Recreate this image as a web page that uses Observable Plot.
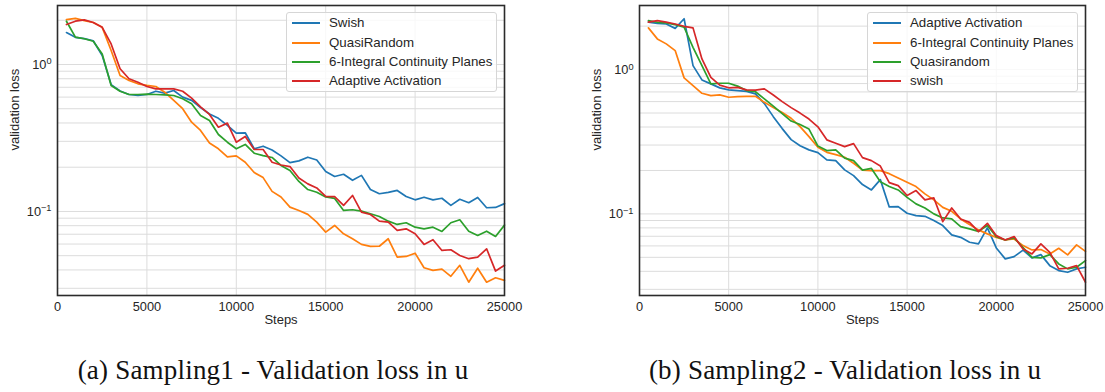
<!DOCTYPE html>
<html>
<head>
<meta charset="utf-8">
<script src="https://cdn.jsdelivr.net/npm/d3@7"></script>
<script src="https://cdn.jsdelivr.net/npm/@observablehq/plot@0.6"></script>
<style>
  body { margin: 0; background: #fff; }
  #wrap { position: relative; width: 1105px; height: 392px; background: #fff; overflow: hidden; }
  #row { position: absolute; left: 0; top: 0; display: flex; }
  .legend { position: absolute; box-sizing: border-box; border: 1px solid #d6d6d6; border-radius: 3px;
            background: rgba(255,255,255,0.8); font: 13.3px "Liberation Sans", Arial, sans-serif; color: #262626; }
  .legend .row { position: absolute; left: 0; height: 0; }
  .legend .swatch { position: absolute; width: 28px; height: 2px; top: -1px; }
  .legend .lab { position: absolute; white-space: nowrap; top: -8px; line-height: 16px; }
  .caption { position: absolute; top: 354px; width: 500px; text-align: center; white-space: nowrap;
             font: 27px "Liberation Serif", "Times New Roman", serif; color: #111; letter-spacing: 0.2px; line-height: 32px; }
</style>
</head>
<body>
<div id="wrap">
  <div id="row"></div>
</div>
<script>
// ---- data ----
const steps = [500,1000,1500,2000,2500,3000,3500,4000,4500,5000,5500,6000,6500,7000,7500,8000,8500,9000,9500,10000,
  10500,11000,11500,12000,12500,13000,13500,14000,14500,15000,15500,16000,16500,17000,17500,18000,18500,19000,19500,20000,
  20500,21000,21500,22000,22500,23000,23500,24000,24500,25000];

// (a) Sampling1
const namesA = ["Swish", "QuasiRandom", "6-Integral Continuity Planes", "Adaptive Activation"];
const swishA = [1.65,1.53,1.50,1.45,1.15,0.73,0.66,0.625,0.615,0.625,0.658,0.638,0.665,0.60,0.57,0.51,0.46,0.43,0.385,0.341,
  0.343,0.267,0.278,0.262,0.239,0.215,0.221,0.234,0.224,0.187,0.173,0.179,0.163,0.176,0.141,0.132,0.135,0.139,0.1265,0.120,
  0.125,0.120,0.123,0.110,0.121,0.1146,0.1245,0.106,0.1065,0.113];
const quasiA = [2.02,2.06,1.99,1.93,1.79,1.245,0.842,0.778,0.739,0.72,0.708,0.648,0.569,0.50,0.405,0.356,0.292,0.267,0.235,0.239,
  0.216,0.184,0.170,0.137,0.1255,0.107,0.1016,0.0955,0.0846,0.0723,0.0803,0.0705,0.0652,0.0597,0.0578,0.058,0.0652,0.0489,0.0494,0.052,
  0.0414,0.0397,0.0405,0.0362,0.043,0.033,0.0411,0.033,0.0354,0.034];
const integralA = [1.97,1.534,1.496,1.44,1.18,0.72,0.658,0.625,0.625,0.628,0.625,0.622,0.615,0.584,0.54,0.45,0.416,0.334,0.296,0.267,
  0.2857,0.249,0.240,0.233,0.2056,0.19,0.16,0.141,0.135,0.1255,0.1226,0.1016,0.1027,0.1005,0.0964,0.0924,0.0859,0.0816,0.0838,0.0782,
  0.0762,0.0782,0.0731,0.0838,0.0878,0.0734,0.0687,0.0734,0.0676,0.0807];
const adaptiveA = [1.87,1.97,2.01,1.93,1.79,1.38,0.935,0.80,0.758,0.708,0.683,0.683,0.683,0.658,0.59,0.514,0.457,0.3745,0.399,0.296,
  0.3236,0.264,0.264,0.216,0.207,0.202,0.169,0.154,0.1445,0.1265,0.126,0.110,0.1285,0.0989,0.0954,0.0859,0.0846,0.0743,0.0762,0.0705,
  0.0597,0.0642,0.0543,0.0549,0.0502,0.0477,0.0489,0.0557,0.0393,0.043];

// (b) Sampling2
const namesB = ["Adaptive Activation", "6-Integral Continuity Planes", "Quasirandom", "swish"];
const adaptiveB = [2.13,2.09,2.07,1.93,2.25,1.066,0.848,0.796,0.747,0.723,0.715,0.707,0.679,0.581,0.472,0.39,0.327,0.297,0.2777,0.266,
  0.2367,0.234,0.2018,0.1842,0.1596,0.1466,0.1728,0.1118,0.1124,0.101,0.0973,0.0962,0.0899,0.083,0.0715,0.0688,0.0636,0.062,0.080,0.0581,
  0.0488,0.0506,0.0561,0.0496,0.0522,0.0438,0.0405,0.0394,0.0416,0.0427];
const integralB = [1.945,1.632,1.507,1.354,0.876,0.775,0.685,0.66,0.668,0.643,0.65,0.653,0.653,0.593,0.545,0.504,0.46,0.4027,0.3433,0.2893,
  0.267,0.2576,0.2467,0.2242,0.2011,0.1995,0.1995,0.190,0.1776,0.1656,0.1546,0.1376,0.125,0.111,0.1042,0.0923,0.0843,0.0775,0.0727,0.0688,
  0.066,0.067,0.0603,0.0563,0.0566,0.0528,0.0578,0.052,0.061,0.055];
const quasiB = [2.186,2.127,2.107,2.05,1.964,1.427,1.066,0.796,0.804,0.804,0.768,0.715,0.702,0.626,0.5585,0.4955,0.44,0.416,0.387,0.295,
  0.2746,0.2777,0.2436,0.234,0.2011,0.2066,0.167,0.155,0.1466,0.1303,0.1173,0.110,0.100,0.0938,0.0923,0.0817,0.0787,0.0757,0.083,0.0696,
  0.066,0.0682,0.0584,0.050,0.0496,0.0522,0.045,0.0416,0.0427,0.0475];
const swishB = [2.13,2.186,2.13,2.07,1.995,1.945,1.186,0.884,0.781,0.748,0.753,0.723,0.721,0.735,0.666,0.6,0.545,0.4995,0.454,0.401,
  0.326,0.3085,0.2927,0.307,0.2455,0.234,0.2144,0.1648,0.157,0.134,0.145,0.125,0.129,0.0884,0.110,0.0923,0.0874,0.0754,0.086,0.0707,
  0.066,0.0696,0.0572,0.0528,0.062,0.0542,0.0416,0.042,0.0438,0.0336];

const colors = ["#1f77b4", "#ff7f0e", "#2ca02c", "#d62728"];
const xTicks = [0, 5000, 10000, 15000, 20000, 25000];
const yLabelTicks = [0.1, 1];
const yGridTicks = [0.03,0.04,0.05,0.06,0.07,0.08,0.09,0.1,0.2,0.3,0.4,0.5,0.6,0.7,0.8,0.9,1,2];
const captions = ["(a) Sampling1 - Validation loss in u", "(b) Sampling2 - Validation loss in u"];

// ---- drawing ----
const FONT = '"Liberation Sans", Arial, sans-serif';

function chart({series, names, yDomain, width, marginLeft, marginRight}) {
  const marks = [
    Plot.gridX(xTicks, {stroke: "#dcdcdc", strokeOpacity: 1, strokeWidth: 1}),
    Plot.gridY(yGridTicks.filter(t => t >= yDomain[0] && t <= yDomain[1]), {stroke: "#dcdcdc", strokeOpacity: 1, strokeWidth: 1}),
  ];
  series.forEach((vals, i) => {
    const rows = steps.map((s, j) => ({step: s, loss: vals[j], name: names[i]}));
    marks.push(Plot.line(rows, {x: "step", y: "loss", stroke: colors[i], strokeWidth: 1.7}));
  });
  marks.push(
    Plot.frame({stroke: "#2b2b2b", strokeWidth: 1.6}),
    Plot.axisX(xTicks, {tickSize: 0, tickPadding: 6, tickFormat: d3.format("d"), label: null, fontSize: 12.8}),
    Plot.axisY(yLabelTicks, {tickSize: 0, tickPadding: 6, label: null, fontSize: 12.8,
      tickFormat: d => d >= 1 ? "10^0" : "10^\u22121"}),
    Plot.text(["Steps"], {frameAnchor: "bottom", dy: 28, text: d => d, fontSize: 13}),
    Plot.text(["validation loss"], {frameAnchor: "left", dx: -43, rotate: -90, text: d => d, fontSize: 13})
  );
  const svg = Plot.plot({
    width, height: 335, marginLeft, marginRight, marginTop: 5, marginBottom: 40,
    x: {domain: [0, 25000]},
    y: {type: "log", domain: yDomain},
    style: {fontFamily: FONT, fontSize: "12.8px", color: "#262626", background: "transparent", overflow: "visible"},
    marks
  });
  // superscript exponents in the y tick labels
  const ns = "http://www.w3.org/2000/svg";
  svg.querySelectorAll('g[aria-label="y-axis tick label"] text').forEach(t => {
    const s = t.textContent;
    if (s.startsWith("10^")) {
      t.textContent = "10";
      const ts = document.createElementNS(ns, "tspan");
      ts.setAttribute("dy", "-0.45em");
      ts.setAttribute("font-size", "0.72em");
      ts.textContent = s.slice(3);
      t.appendChild(ts);
    }
  });
  return svg;
}

const row = document.getElementById("row");
row.appendChild(chart({series: [swishA, quasiA, integralA, adaptiveA], names: namesA,
  yDomain: [0.0268, 2.52], width: 552, marginLeft: 57, marginRight: 48}));
row.appendChild(chart({series: [adaptiveB, integralB, quasiB, swishB], names: namesB,
  yDomain: [0.0272, 2.78], width: 553, marginLeft: 87, marginRight: 20}));

const wrap = document.getElementById("wrap");
function legend(names, left) {
  const box = document.createElement("div");
  box.className = "legend";
  Object.assign(box.style, {left: left + "px", top: "12px", width: "211px", height: "80px"});
  names.forEach((n, i) => {
    const r = document.createElement("div");
    r.className = "row";
    r.style.top = (10.3 + i * 19.3) + "px";
    const sw = document.createElement("div");
    sw.className = "swatch";
    sw.style.left = "4.5px";
    sw.style.background = colors[i];
    const lb = document.createElement("div");
    lb.className = "lab";
    lb.style.left = "42px";
    lb.textContent = n;
    r.appendChild(sw); r.appendChild(lb);
    box.appendChild(r);
  });
  wrap.appendChild(box);
}
legend(namesA, 286);
legend(namesB, 867);

captions.forEach((c, i) => {
  const d = document.createElement("div");
  d.className = "caption";
  d.style.left = (i === 0 ? 273 - 250 : 845 - 250) + "px";
  d.textContent = c;
  wrap.appendChild(d);
});
</script>
</body>
</html>
